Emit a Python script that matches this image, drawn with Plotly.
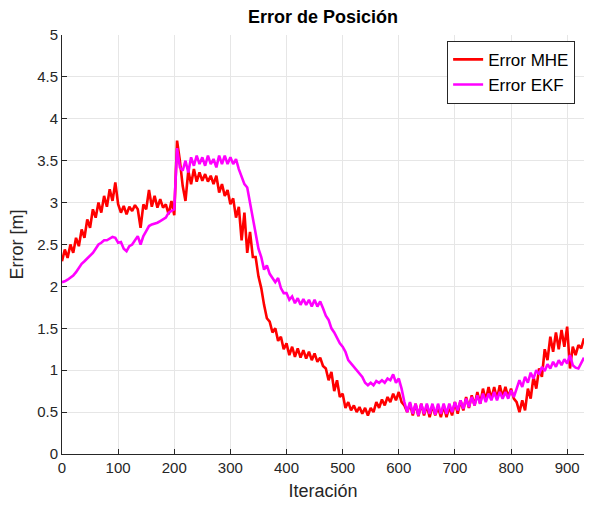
import plotly.graph_objects as go

iteracion = list(range(0, 931, 5))

error_mhe = [
    2.30, 2.44, 2.34, 2.50, 2.40, 2.58, 2.48, 2.68, 2.58, 2.80,  # 0-45
    2.70, 2.92, 2.82, 3.00, 2.88, 3.08, 2.95, 3.16, 3.02, 3.24,  # 50-95
    2.98, 2.88, 2.96, 2.86, 2.95, 2.90, 2.97, 2.92, 2.70, 2.98,  # 100-145
    2.92, 3.15, 2.95, 3.08, 2.94, 3.04, 2.94, 2.98, 2.86, 3.02,  # 150-195
    2.85, 3.74, 3.50, 3.20, 3.02, 3.38, 3.22, 3.40, 3.25, 3.36,  # 200-245
    3.26, 3.34, 3.25, 3.32, 3.22, 3.32, 3.12, 3.22, 3.08, 3.15,  # 250-295
    2.98, 3.05, 2.82, 2.95, 2.55, 2.88, 2.40, 2.65, 2.35, 2.35,  # 300-345
    2.12, 1.98, 1.78, 1.62, 1.58, 1.45, 1.50, 1.35, 1.40, 1.25,  # 350-395
    1.32, 1.18, 1.28, 1.16, 1.26, 1.15, 1.24, 1.14, 1.22, 1.12,  # 400-445
    1.20, 1.10, 1.15, 1.05, 1.02, 0.88, 0.98, 0.75, 0.88, 0.68,  # 450-495
    0.72, 0.55, 0.62, 0.52, 0.58, 0.50, 0.56, 0.48, 0.55, 0.46,  # 500-545
    0.55, 0.50, 0.62, 0.55, 0.65, 0.58, 0.68, 0.62, 0.72, 0.64,  # 550-595
    0.74, 0.62, 0.58, 0.50, 0.60, 0.46, 0.60, 0.45, 0.60, 0.46,  # 600-645
    0.58, 0.44, 0.58, 0.46, 0.56, 0.44, 0.58, 0.44, 0.56, 0.46,  # 650-695
    0.62, 0.48, 0.64, 0.52, 0.68, 0.55, 0.70, 0.58, 0.74, 0.60,  # 700-745
    0.78, 0.64, 0.80, 0.66, 0.80, 0.66, 0.82, 0.68, 0.80, 0.68,  # 750-795
    0.78, 0.66, 0.62, 0.50, 0.64, 0.52, 0.78, 0.66, 0.92, 0.78,  # 800-845
    1.02, 0.92, 1.25, 1.12, 1.40, 1.22, 1.45, 1.25, 1.48, 1.28,  # 850-895
    1.52, 1.02, 1.28, 1.18, 1.30, 1.26, 1.38,                    # 900-930
]

error_ekf = [
    2.05, 2.06, 2.08, 2.10, 2.13, 2.17, 2.22, 2.27, 2.30, 2.33,  # 0-45
    2.36, 2.40, 2.45, 2.50, 2.52, 2.55, 2.55, 2.57, 2.59, 2.58,  # 50-95
    2.52, 2.53, 2.45, 2.42, 2.48, 2.50, 2.55, 2.60, 2.50, 2.60,  # 100-145
    2.66, 2.72, 2.74, 2.75, 2.76, 2.78, 2.80, 2.82, 2.88, 2.90,  # 150-195
    2.92, 3.65, 3.42, 3.38, 3.50, 3.36, 3.54, 3.44, 3.56, 3.46,  # 200-245
    3.54, 3.44, 3.56, 3.46, 3.52, 3.42, 3.56, 3.46, 3.56, 3.46,  # 250-295
    3.54, 3.46, 3.52, 3.40, 3.30, 3.22, 3.18, 3.00, 2.80, 2.60,  # 300-345
    2.45, 2.35, 2.20, 2.25, 2.15, 2.10, 2.05, 2.10, 1.98, 1.92,  # 350-395
    1.92, 1.84, 1.88, 1.80, 1.86, 1.78, 1.85, 1.78, 1.84, 1.76,  # 400-445
    1.84, 1.76, 1.82, 1.74, 1.65, 1.60, 1.50, 1.45, 1.38, 1.32,  # 450-495
    1.28, 1.22, 1.12, 1.08, 1.05, 1.00, 0.97, 0.92, 0.85, 0.82,  # 500-545
    0.85, 0.82, 0.87, 0.85, 0.88, 0.85, 0.90, 0.88, 0.95, 0.85,  # 550-595
    0.90, 0.78, 0.62, 0.50, 0.62, 0.48, 0.60, 0.46, 0.60, 0.48,  # 600-645
    0.60, 0.48, 0.60, 0.47, 0.60, 0.48, 0.60, 0.48, 0.60, 0.50,  # 650-695
    0.62, 0.52, 0.64, 0.54, 0.66, 0.56, 0.68, 0.58, 0.70, 0.60,  # 700-745
    0.72, 0.62, 0.72, 0.64, 0.74, 0.64, 0.74, 0.66, 0.74, 0.66,  # 750-795
    0.76, 0.68, 0.78, 0.88, 0.80, 0.92, 0.85, 0.97, 0.90, 1.00,  # 800-845
    0.95, 1.04, 0.99, 1.07, 1.02, 1.10, 1.04, 1.12, 1.06, 1.13,  # 850-895
    1.08, 1.18, 1.06, 1.03, 1.02, 1.08, 1.15,                    # 900-930
]

y_ticks = [0, 0.5, 1, 1.5, 2, 2.5, 3, 3.5, 4, 4.5, 5]
y_labels = ["0", "0.5", "1", "1.5", "2", "2.5", "3", "3.5", "4", "4.5", "5"]
x_ticks = [0, 100, 200, 300, 400, 500, 600, 700, 800, 900]

FONT = "Liberation Sans, Arial, sans-serif"
AX = "#262626"

fig = go.Figure()
fig.add_trace(go.Scatter(x=iteracion, y=error_mhe, mode="lines", name="Error MHE",
                         line=dict(color="#ff0000", width=2.6)))
fig.add_trace(go.Scatter(x=iteracion, y=error_ekf, mode="lines", name="Error EKF",
                         line=dict(color="#ff00ff", width=2.6)))

fig.update_layout(
    width=590, height=506,
    margin=dict(l=62, r=6, t=35, b=52),
    paper_bgcolor="white", plot_bgcolor="white",
    font=dict(family=FONT, size=15, color=AX),
    title=dict(text="<b>Error de Posición</b>", x=0.5, xref="paper", xanchor="center",
               y=1 - 17 / 506, yanchor="middle",
               font=dict(family=FONT, size=18, color="black")),
    legend=dict(x=0.983, y=0.986, xanchor="right", yanchor="top",
                bgcolor="white", bordercolor="#262626", borderwidth=1,
                font=dict(family=FONT, size=17, color="black"),
                tracegroupgap=0),
    showlegend=True,
)
fig.update_xaxes(
    range=[0, 930], tickvals=x_ticks, ticks="inside", ticklen=5, tickcolor=AX,
    showline=True, linecolor=AX, linewidth=1, mirror=False,
    showgrid=True, gridcolor="#e6e6e6", gridwidth=1, zeroline=False,
    title=dict(text="Iteración", font=dict(family=FONT, size=18, color=AX), standoff=9),
    tickfont=dict(family=FONT, size=15, color=AX),
)
fig.update_yaxes(
    range=[0, 5], tickvals=y_ticks, ticktext=y_labels, ticks="inside", ticklen=5, tickcolor=AX,
    showline=True, linecolor=AX, linewidth=1, mirror=False,
    showgrid=True, gridcolor="#e6e6e6", gridwidth=1, zeroline=False,
    title=dict(text="Error [m]", font=dict(family=FONT, size=18, color=AX), standoff=8),
    tickfont=dict(family=FONT, size=15, color=AX),
)

fig.write_html("out.html")
